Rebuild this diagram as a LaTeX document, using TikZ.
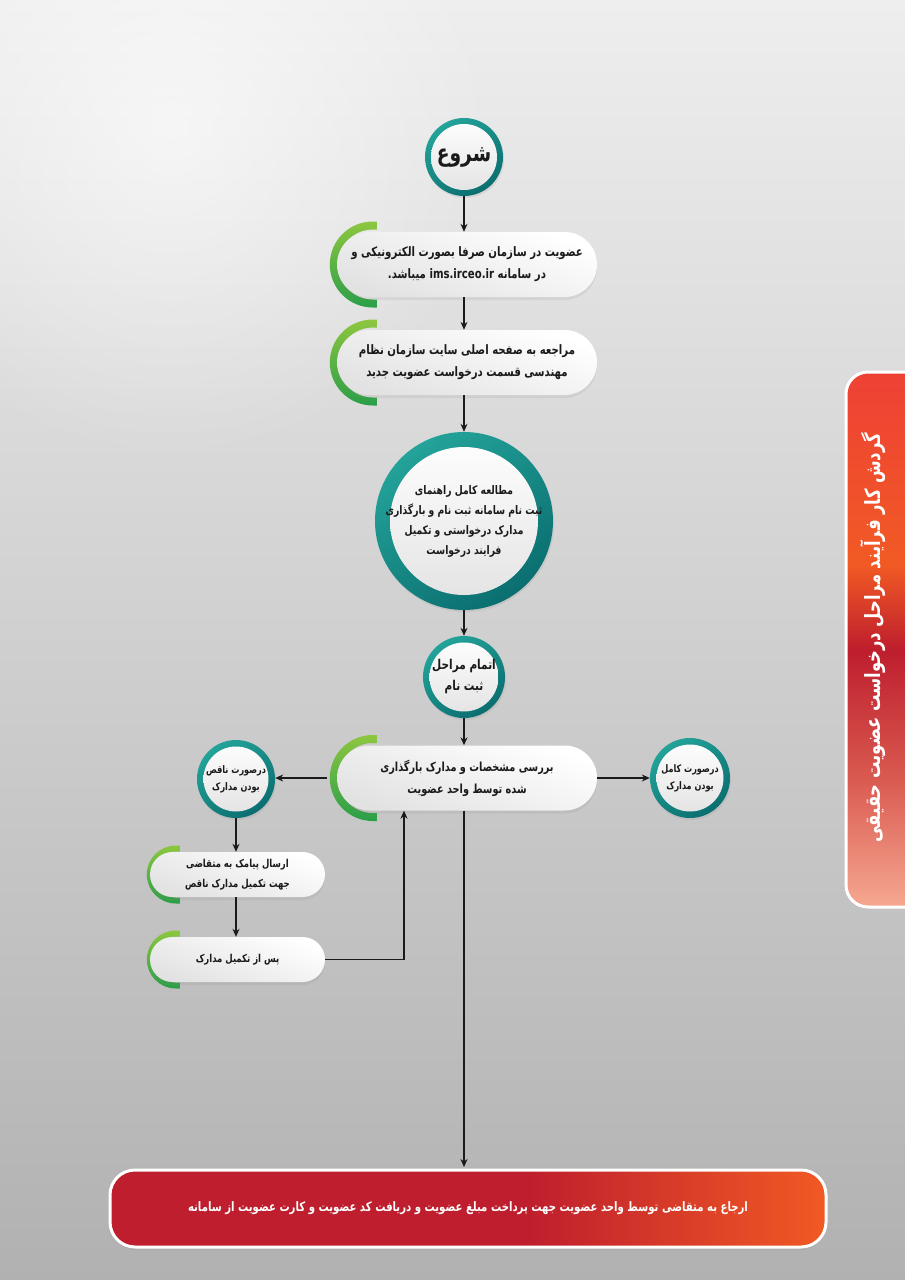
\documentclass[tikz,border=0pt]{standalone}
\usepackage{fontspec}
\setmainfont{DejaVu Sans}
\newfontfamily\farsi[Script=Arabic, FakeStretch=0.78]{DejaVu Sans}
\TeXXeTstate=1
\usetikzlibrary{arrows.meta,shadows,fadings,calc}
\newcommand\rtlline[1]{\beginR#1\endR}
\definecolor{tealL}{HTML}{23A399}
\definecolor{tealD}{HTML}{0B6E70}
\definecolor{greenL}{HTML}{8DC63F}
\definecolor{greenD}{HTML}{2A9F48}
\definecolor{crim}{HTML}{BE1E2D}
\definecolor{orng}{HTML}{F15A24}
\definecolor{bannerTop}{HTML}{EE4136}
\definecolor{bannerMid}{HTML}{D95A50}
\definecolor{salmon}{HTML}{F6A891}
\definecolor{bgTop}{HTML}{EEEEEE}
\definecolor{bgBot}{HTML}{B1B1B1}
\definecolor{ink}{HTML}{1A1A1A}
\definecolor{pillGray}{HTML}{E2E2E2}
\pgfdeclarehorizontalshading{barshade}{100bp}{color(0bp)=(crim); color(25bp)=(crim); color(54bp)=(crim); color(75bp)=(orng); color(100bp)=(orng)}
\pgfdeclareverticalshading{bannershade}{100bp}{color(0bp)=(salmon); color(25bp)=(salmon); color(37bp)=(bannerMid); color(49bp)=(crim); color(57bp)=(orng); color(75bp)=(bannerTop); color(100bp)=(bannerTop)}
\tikzfading[name=glowfade, inner color=transparent!0, outer color=transparent!100]
\pgfdeclarelayer{bgl}
\pgfdeclarelayer{arcl}
\pgfsetlayers{bgl,arcl,main}
\newcommand\garc[4]{%
  \coordinate (gc) at ([xshift=#2pt+3.5pt]#1.west);
  \shade[top color=greenL, bottom color=greenD]
    ($(gc)+(4,#3)$) -- ($(gc)+(0,#3)$) arc[start angle=90,end angle=270,radius=#3pt]
    -- ($(gc)+(4,-#3)$) -- ($(gc)+(4,-#4)$) -- ($(gc)+(0,-#4)$)
    arc[start angle=270,end angle=90,radius=#4pt] -- ($(gc)+(4,#4)$) -- cycle;
}
\tikzset{
  arr/.style={draw=ink, line width=1.1pt, -{Stealth[length=8pt,width=7pt]}},
  pill/.style={rectangle, rounded corners=32.5pt, inner sep=0pt, minimum height=65pt, minimum width=260pt,
    top color=white, bottom color=pillGray, shading angle=-20, text=ink, align=center,
    font=\farsi\bfseries\fontsize{13}{22}\selectfont,
    drop shadow={opacity=0.13, shadow xshift=0pt, shadow yshift=-3pt}},
  spill/.style={pill, rounded corners=22.5pt, minimum height=45pt, minimum width=175pt,
    font=\farsi\bfseries\fontsize{10.9}{20}\selectfont},
  tcirc/.style 2 args={circle, inner sep=0pt, minimum size=#1, draw=none,
    top color=tealL, bottom color=tealD, shading angle=35, text=ink, align=center,
    drop shadow={opacity=0.15, shadow xshift=1pt, shadow yshift=-2pt},
    path picture={\shade[top color=white, bottom color=pillGray]
      (path picture bounding box.center) circle[radius=#1/2-#2];}},
}
\begin{document}
\begin{tikzpicture}[x=1pt,y=1pt]
\useasboundingbox (0,0) rectangle (905,-1280);
% background
\begin{pgfonlayer}{bgl}
\shade[top color=bgTop, bottom color=bgBot] (0,0) rectangle (905,-1280);
\fill[white, opacity=0.6, path fading=glowfade] (170,-130) circle (330);
\end{pgfonlayer}

% side banner
\shade[shading=bannershade, draw=white, line width=3pt, rounded corners=22pt]
  (940,-372) -- (846,-372) -- (846,-907) -- (940,-907) -- cycle;
\node[rotate=90, text=white, font=\farsi\bfseries\fontsize{21}{24}\selectfont] (title) at (873,-638)
  {\rtlline{گردش کار فرآیند مراحل درخواست عضویت حقیقی}};

% nodes
\node[tcirc={78pt}{6pt}, font=\farsi\bfseries\fontsize{24}{26}\selectfont] (start) at (464,-157) {\rtlline{شروع}};

\node[pill] (b1) at (467,-264.5) {\rtlline{عضویت در سازمان صرفا بصورت الکترونیکی  و}\\\rtlline{در سامانه \beginL ims.irceo.ir\endL{} میباشد.}};

\node[pill] (b2) at (467,-362.5) {\rtlline{مراجعه به صفحه اصلی سایت سازمان نظام}\\\rtlline{مهندسی قسمت درخواست عضویت جدید}};

\node[tcirc={178pt}{15pt}, font=\farsi\bfseries\fontsize{11.8}{20}\selectfont] (big) at (464,-521)
  {\rtlline{مطالعه کامل راهنمای}\\\rtlline{ثبت نام سامانه ثبت نام و بارگذاری}\\\rtlline{مدارک درخواستی و تکمیل}\\\rtlline{فرایند درخواست}};

\node[tcirc={82pt}{6.5pt}, font=\farsi\bfseries\fontsize{13.5}{21}\selectfont] (small) at (464,-677)
  {\rtlline{اتمام مراحل}\\\rtlline{ثبت نام}};

\node[pill, font=\farsi\bfseries\fontsize{12.5}{22}\selectfont] (review) at (467,-778) {\rtlline{بررسی مشخصات و مدارک بارگذاری}\\\rtlline{شده توسط واحد عضویت}};

\node[tcirc={78pt}{6.5pt}, font=\farsi\bfseries\fontsize{10.4}{17}\selectfont] (left) at (236,-779)
  {\rtlline{درصورت ناقص}\\\rtlline{بودن مدارک}};
\node[tcirc={80pt}{6.5pt}, font=\farsi\bfseries\fontsize{10.4}{17}\selectfont] (right) at (690,-778)
  {\rtlline{درصورت کامل}\\\rtlline{بودن مدارک}};

\node[spill] (b3) at (237.5,-874.5) {\rtlline{ارسال پیامک به متقاضی}\\\rtlline{جهت تکمیل مدارک ناقص}};
\node[spill] (b4) at (237.5,-959.5) {\rtlline{پس از تکمیل مدارک}};

\node[rectangle, rounded corners=25pt, minimum width=716pt, minimum height=77pt,
  shade, shading=barshade, draw=white, line width=3pt, text=white,
  font=\farsi\bfseries\fontsize{13}{15}\selectfont,
  drop shadow={opacity=0.12, shadow xshift=0pt, shadow yshift=-3pt}] (bar) at (468,-1208.5)
  {\rtlline{ارجاع به متقاضی توسط واحد عضویت جهت پرداخت مبلغ عضویت و دریافت کد عضویت و کارت عضویت از سامانه}};

% green arcs behind the pills
\begin{pgfonlayer}{arcl}
\garc{b1}{32.5}{43}{35}
\garc{b2}{32.5}{43}{35}
\garc{review}{32.5}{43}{35}
\garc{b3}{22.5}{29}{23}
\garc{b4}{22.5}{29}{23}
\end{pgfonlayer}

% connectors
\draw[arr] (start.south) -- (start.south |- b1.north);
\draw[arr] ($(b1.south)+(-3,0)$) -- ($(b2.north)+(-3,0)$);
\draw[arr] ($(b2.south)+(-3,0)$) -- (big.north);
\draw[arr] (big.south) -- (small.north);
\draw[arr] (small.south) -- ($(review.north)+(-3,0)$);
\draw[arr] ([xshift=-10pt]review.west) -- (review.west -| left.east);
\draw[arr] (review.east) -- (review.east -| right.west);
\draw[arr] (left.south) -- (left.south |- b3.north);
\draw[arr] (left.south |- b3.south) -- (left.south |- b4.north);
\draw[arr] (b4.east) -| ($(review.south)+(-63,0)$);
\draw[arr] ($(review.south)+(-3,0)$) -- ($(bar.north)+(-4,1.5)$);
\end{tikzpicture}
\end{document}
